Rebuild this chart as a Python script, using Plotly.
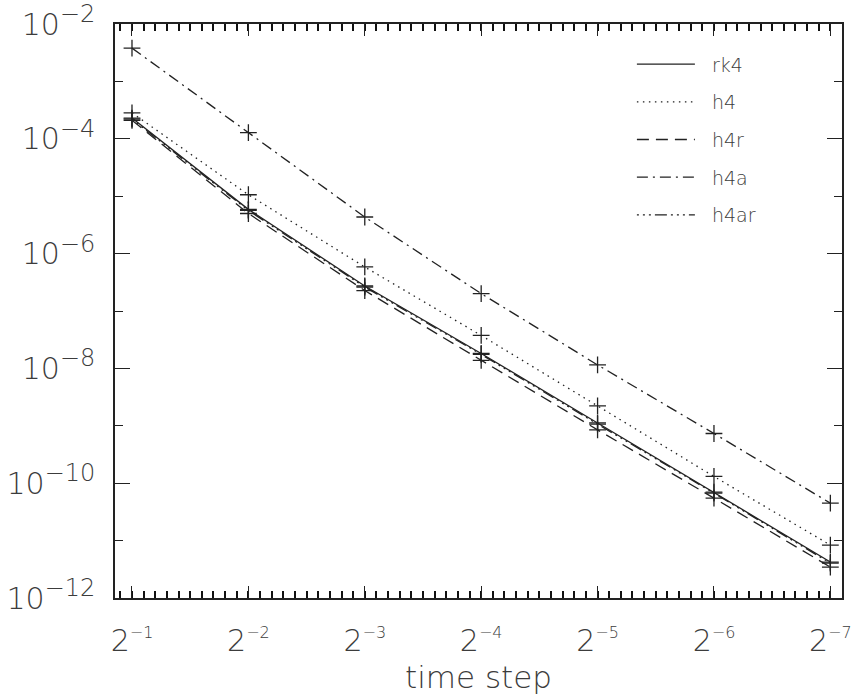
import math
import plotly.graph_objects as go

# ---- data ----
time_step = [0.5, 0.25, 0.125, 0.0625, 0.03125, 0.015625, 0.0078125]
x_exponents = [-1, -2, -3, -4, -5, -6, -7]
y_exponents = [-2, -4, -6, -8, -10, -12]
y_minor_exponents = [-3, -5, -7, -9, -11]

series_names = ["rk4", "h4", "h4r", "h4a", "h4ar"]
rk4 = [2.3e-4, 5.9e-6, 2.73e-7, 1.82e-8, 1.12e-9, 6.97e-11, 4.23e-12]
h4 = [2.83e-4, 1.06e-5, 5.85e-7, 3.75e-8, 2.22e-9, 1.31e-10, 8.36e-12]
h4r = [2.1e-4, 5.0e-6, 2.27e-7, 1.38e-8, 8.5e-10, 5.5e-11, 3.46e-12]
h4a = [3.8e-3, 1.28e-4, 4.34e-6, 2.01e-7, 1.15e-8, 7.34e-10, 4.49e-11]
h4ar = [2.2e-4, 5.65e-6, 2.62e-7, 1.75e-8, 1.07e-9, 6.7e-11, 4.05e-12]

series_values = [rk4, h4, h4r, h4a, h4ar]
dashes = ["solid", "1.5px,4.5px", "12px,7px", "11px,5px,2px,5px",
          "2px,4px,2px,4px,2px,4px,12px,4px"]

INK = "#222222"
TXT = "#3c3c3c"
FONT = "DejaVu Sans"
NB = "\u00a0"

fig = go.Figure()
for name, vals, dash in zip(series_names, series_values, dashes):
    fig.add_trace(go.Scatter(
        x=time_step, y=vals, mode="lines", name=NB * 2 + name, legendgroup=name,
        line=dict(color=INK, width=1.3, dash=dash),
    ))
for name, vals in zip(series_names, series_values):
    fig.add_trace(go.Scatter(
        x=time_step, y=vals, mode="markers", name=name, showlegend=False,
        marker=dict(symbol="cross-thin", size=12, color=INK,
                    line=dict(color=INK, width=1.3)),
        hoverinfo="skip",
    ))

# tick texts
x_ticktext = ["2<sup><span style='font-size:16px'>−%d</span></sup>" % (-e)
              for e in x_exponents]
y_tickvals = [10.0 ** e for e in y_exponents]
y_ticktext = ["10<sup><span style='font-size:24px'>−%d</span></sup>" % (-e)
              for e in y_exponents]
y_minor = [10.0 ** e for e in y_minor_exponents]

# x range (log10 of time step), with a little padding in log2 units
lo2 = x_exponents[0] + 0.146
hi2 = x_exponents[-1] - 0.10
lo = lo2 * math.log10(2)
hi = hi2 * math.log10(2)

fig.update_layout(
    width=851, height=700,
    margin=dict(l=115, r=9, t=24, b=102, autoexpand=False),
    paper_bgcolor="white", plot_bgcolor="white",
    font=dict(family=FONT, color=TXT, weight=300),
    showlegend=True,
    legend=dict(x=0.711, y=0.963, xanchor="left", yanchor="top",
                bgcolor="rgba(0,0,0,0)", font=dict(size=19, color=TXT, weight=300),
                traceorder="grouped", tracegroupgap=10, itemwidth=58),
    xaxis=dict(
        type="log", range=[lo, hi], automargin=False,
        tickmode="array", tickvals=time_step, ticktext=x_ticktext,
        ticks="inside", ticklen=12, tickwidth=1.4, tickcolor=INK,
        minor=dict(tickmode="linear", tick0=math.log10(time_step[0]),
                   dtick=0.1 * math.log10(2),
                   ticks="inside", ticklen=7, tickwidth=1.6, tickcolor="#111111",
                   showgrid=False),
        showline=True, linewidth=1.5, linecolor=INK, mirror="ticks",
        showgrid=False, zeroline=False, ticklabeloverflow="allow",
        tickfont=dict(size=30, color=TXT, weight=300), ticklabelstandoff=15,
        title=dict(text="time step", font=dict(size=31, color=TXT, weight=300),
                   standoff=10),
    ),
    yaxis=dict(
        type="log", range=[-12, -2], automargin=False,
        tickmode="array", tickvals=y_tickvals, ticktext=y_ticktext,
        ticks="inside", ticklen=15, tickwidth=1.4, tickcolor=INK,
        minor=dict(tickmode="array", tickvals=y_minor, ticks="inside",
                   ticklen=8, tickwidth=1.3, tickcolor=INK, showgrid=False),
        showline=True, linewidth=1.5, linecolor=INK, mirror="ticks",
        showgrid=False, zeroline=False, ticklabeloverflow="allow",
        tickfont=dict(size=30, color=TXT, weight=300), ticklabelstandoff=12,
    ),
)

fig.write_html("out.html", config={"displayModeBar": False},
               post_script="document.body.style.margin='0';")
